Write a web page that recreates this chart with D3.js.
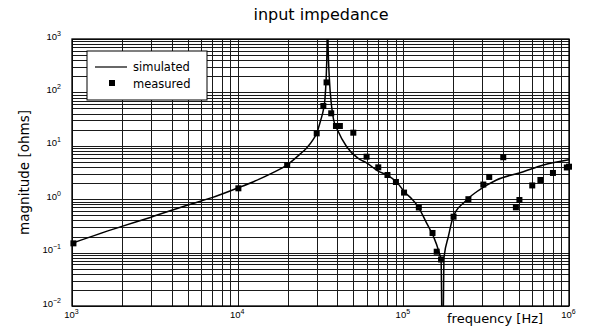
<!DOCTYPE html>
<html>
<head>
<meta charset="utf-8">
<script src="https://cdn.jsdelivr.net/npm/d3@7"></script>
<style>
  html, body { margin: 0; padding: 0; background: #fff; }
  svg { display: block; }
  text { fill: #000; }
</style>
</head>
<body>
<svg id="chart" width="594" height="336"></svg>
<script>
// Input impedance — log/log magnitude vs frequency, simulated + measured
// ------------------------------------------------------------------

// Data -------------------------------------------------------------
const simFreq = [1000, 2000, 3000, 5000, 7000, 10000, 13600, 16000, 20000, 23800,
                 26000, 28600, 30000, 31700, 33000, 33600, 34200, 34600, 34850, 35200,
                 35700, 36900, 38000, 40000, 45500, 53400, 60000, 70000, 80000, 91000,
                 102000, 113000, 123000, 138000, 152000, 163000, 169000, 171500, 173500, 176000,
                 187000, 200000, 235000, 277000, 365000, 530000, 700000, 1000000];
const simMag  = [0.15, 0.31, 0.46, 0.78, 1.07, 1.62, 2.4, 3.05, 4.45, 7.0,
                 9.0, 13.2, 17.2, 30, 49, 72, 180, 600, 3000, 600,
                 200, 55, 30, 20, 9.6, 5.8, 4.8, 3.4, 2.8, 2.1,
                 1.35, 1.0, 0.72, 0.36, 0.2, 0.11, 0.07, 0.003, 0.003, 0.08,
                 0.2, 0.47, 0.9, 1.38, 2.29, 3.27, 4.37, 5.5];

const measFreq = [1020, 10100, 19900, 30000, 32900, 34400, 36700, 39200, 41400, 49900,
                  60000, 70600, 80200, 90200, 101000, 124000, 150000, 159000, 169000, 201000,
                  247000, 304000, 330000, 401000, 478000, 502000, 600000, 672000, 800000, 970000,
                  1000000];
const measMag  = [0.149, 1.6, 4.37, 17.1, 55.6, 154, 40.6, 23.5, 23.5, 17.6,
                  6.25, 3.95, 2.84, 2.10, 1.33, 0.70, 0.233, 0.104, 0.0743, 0.47,
                  1.0, 1.88, 2.61, 6.10, 0.705, 0.966, 1.81, 2.29, 3.10, 3.93,
                  4.06];

// Tick labels (powers of ten) ---------------------------------------
const xTickExp = ["3", "4", "5", "6"];
const yTickExp = ["-2", "-1", "0", "1", "2", "3"];

const seriesNames = ["simulated", "measured"];

// Layout -----------------------------------------------------------
const margin = { top: 39, right: 25, bottom: 30, left: 72 },
      fullW  = 594,
      fullH  = 336,
      width  = fullW - margin.left - margin.right,
      height = fullH - margin.top  - margin.bottom;

const svgBase = d3.select("#chart");
const svg = svgBase.append("g")
  .attr("transform", `translate(${margin.left},${margin.top})`);

// Scales -----------------------------------------------------------
const x = d3.scaleLog().domain([1e3, 1e6]).range([0, width]);
const y = d3.scaleLog().domain([1e-2, 1e3]).range([height, 0]);

// Grid (every 1..9 per decade) -------------------------------------
svg.append("g")
    .attr("class", "grid-x")
    .attr("transform", `translate(0,${height})`)
    .call(d3.axisBottom(x).tickValues(x.ticks()).tickSize(-height).tickFormat(""))
    .call(g => g.select(".domain").remove())
    .selectAll("line")
      .attr("stroke", "#1a1a1a")
      .attr("stroke-width", 1)
      .attr("shape-rendering", "crispEdges");

svg.append("g")
    .attr("class", "grid-y")
    .call(d3.axisLeft(y).tickValues(y.ticks()).tickSize(-width).tickFormat(""))
    .call(g => g.select(".domain").remove())
    .selectAll("line")
      .attr("stroke", "#1a1a1a")
      .attr("stroke-width", 1)
      .attr("shape-rendering", "crispEdges");

// Frame ------------------------------------------------------------
svg.append("rect")
    .attr("width", width)
    .attr("height", height)
    .attr("fill", "none")
    .attr("stroke", "#000")
    .attr("stroke-width", 1.3);

// Tick labels ------------------------------------------------------
function powerLabel(sel, expOf) {
  sel.text(null).attr("dy", null)
     .style("font-family", "'Liberation Sans', Arial, sans-serif")
     .style("font-size", "9.5px")
     .attr("fill", "#000");
  sel.append("tspan").text("10");
  sel.append("tspan")
      .attr("dy", -4)
      .style("font-size", "7px")
      .text(d => expOf(d).replace("-", "\u2212"));
}

const xAxisG = svg.append("g")
    .attr("transform", `translate(0,${height})`)
    .call(d3.axisBottom(x).tickValues(xTickExp.map(e => Math.pow(10, +e))).tickSize(0).tickPadding(12))
    .call(g => g.select(".domain").remove());
xAxisG.selectAll("text")
    .call(powerLabel, d => String(Math.round(Math.log10(d))))
    .attr("y", 12)
    .attr("x", -1);

const yAxisG = svg.append("g")
    .call(d3.axisLeft(y).tickValues(yTickExp.map(e => Math.pow(10, +e))).tickSize(0).tickPadding(11))
    .call(g => g.select(".domain").remove());
yAxisG.selectAll("text")
    .call(powerLabel, d => String(Math.round(Math.log10(d))));

// Clip + series ----------------------------------------------------
svg.append("clipPath").attr("id", "plot-clip")
  .append("rect").attr("width", width).attr("height", height);

const simData  = simFreq.map((f, i) => ({ f, z: simMag[i] }));
const measData = measFreq.map((f, i) => ({ f, z: measMag[i] }));

const line = d3.line()
    .x(d => x(d.f))
    .y(d => y(d.z))
    .curve(d3.curveMonotoneX);

const plotG = svg.append("g").attr("clip-path", "url(#plot-clip)");

plotG.append("path")
    .datum(simData)
    .attr("fill", "none")
    .attr("stroke", "#000")
    .attr("stroke-width", 1.5)
    .attr("d", line);

const sq = 6;
svg.append("g").selectAll("rect")
  .data(measData)
  .join("rect")
    .attr("x", d => x(d.f) - sq / 2)
    .attr("y", d => y(d.z) - sq / 2)
    .attr("width", sq)
    .attr("height", sq)
    .attr("fill", "#000");

// Legend -----------------------------------------------------------
const legend = svg.append("g")
    .attr("transform", "translate(15,12)");

legend.append("rect")
    .attr("width", 120)
    .attr("height", 49)
    .attr("fill", "#fff")
    .attr("stroke", "#000")
    .attr("stroke-width", 1);

legend.append("line")
    .attr("x1", 8).attr("x2", 40)
    .attr("y1", 16).attr("y2", 16)
    .attr("stroke", "#000")
    .attr("stroke-width", 1.2);

legend.append("rect")
    .attr("x", 25 - sq / 2).attr("y", 32 - sq / 2)
    .attr("width", sq).attr("height", sq)
    .attr("fill", "#000");

legend.selectAll("text.lg")
  .data(seriesNames)
  .join("text")
    .attr("class", "lg")
    .attr("x", 46)
    .attr("y", (d, i) => 20 + i * 17)
    .style("font-family", "'DejaVu Sans', sans-serif")
    .style("font-size", "11.5px")
    .text(d => d);

// Titles -----------------------------------------------------------
svgBase.append("text")
    .attr("x", 321)
    .attr("y", 20)
    .attr("text-anchor", "middle")
    .style("font-family", "'DejaVu Sans', sans-serif")
    .style("font-size", "16px")
    .text("input impedance");

svgBase.append("text")
    .attr("x", 447)
    .attr("y", 323)
    .style("font-family", "'DejaVu Sans', sans-serif")
    .style("font-size", "13px")
    .text("frequency [Hz]");

svgBase.append("text")
    .attr("transform", `translate(29,${margin.top + height / 2}) rotate(-90)`)
    .attr("text-anchor", "middle")
    .style("font-family", "'DejaVu Sans', sans-serif")
    .style("font-size", "13.5px")
    .text("magnitude [ohms]");
</script>
</body>
</html>
